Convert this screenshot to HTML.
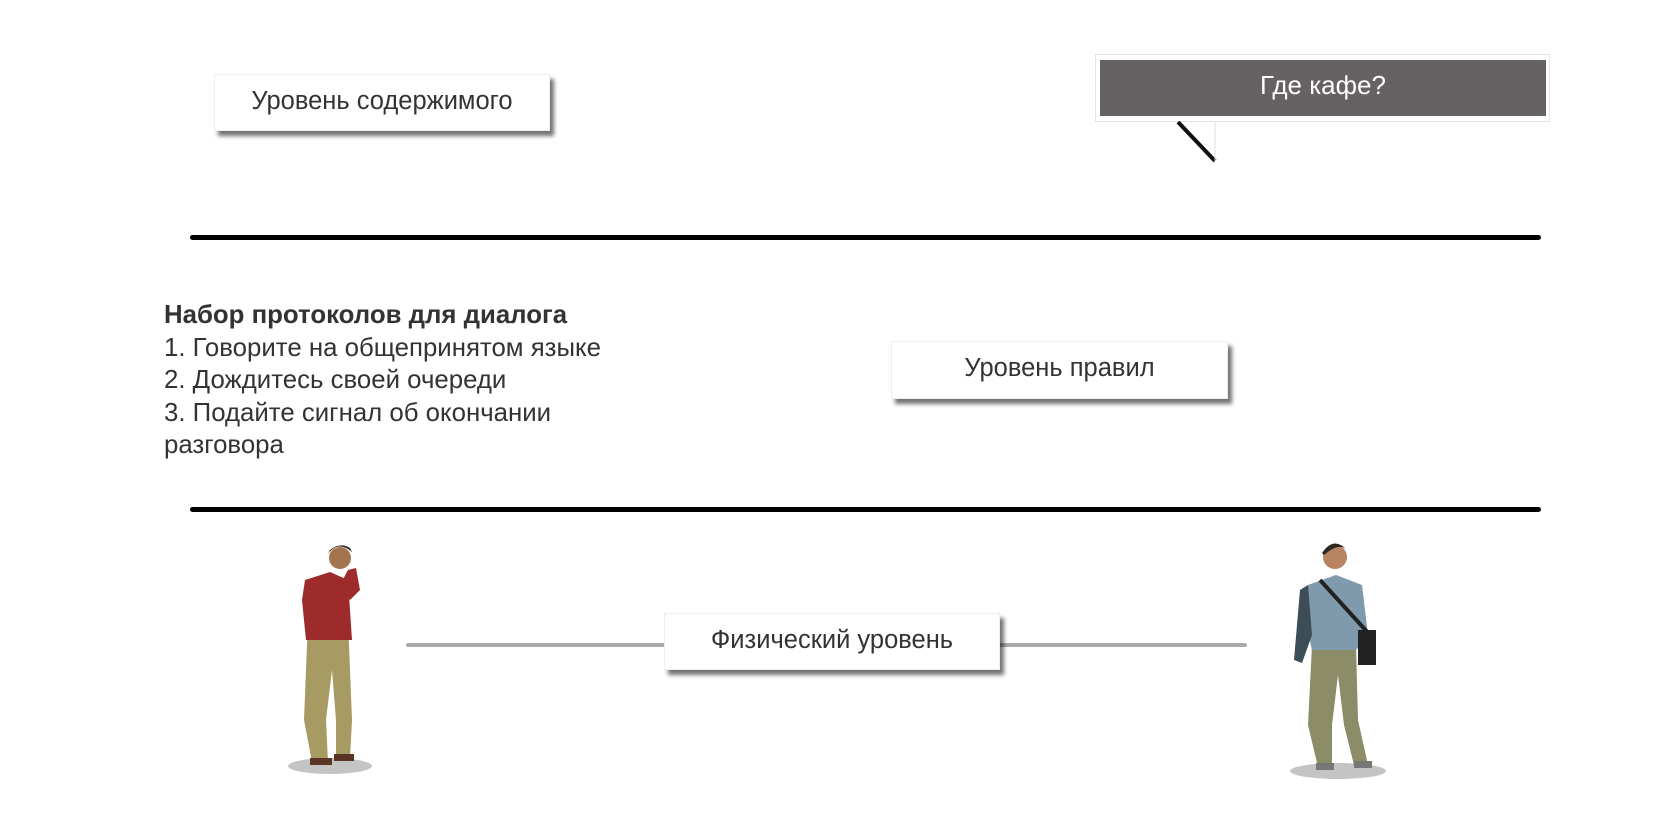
<!DOCTYPE html>
<html><head><meta charset="utf-8"><style>
body{margin:0;width:1674px;height:820px;background:#fff;position:relative;overflow:hidden;font-family:"Liberation Sans",sans-serif;color:#333}
.box{position:absolute;background:#fff;box-shadow:4px 5px 4px rgba(0,0,0,.55);display:flex;align-items:center;justify-content:center;font-size:25.5px;color:#333;border:1px solid #eee;box-sizing:border-box;padding-bottom:3px}
.hl{position:absolute;height:5px;background:#000;border-radius:3px}
.txt{position:absolute;left:164px;top:299px;font-size:25.8px;line-height:32.5px;color:#333}
</style></head><body>
<div class="box" style="left:214px;top:74px;width:336px;height:57px">Уровень содержимого</div>
<div style="position:absolute;left:1095px;top:54px;width:455px;height:68px;border:1px solid #e4e4e4;box-sizing:border-box;background:#fff"></div>
<div style="position:absolute;left:1100px;top:60px;width:446px;height:56px;background:#666263;color:#fff;font-size:26px;display:flex;align-items:center;justify-content:center;padding-bottom:5px;box-sizing:border-box">Где кафе?</div>
<svg style="position:absolute;left:1170px;top:121px" width="60" height="45"><polygon points="8,1 45,1 45,40" fill="#fff"/><line x1="8" y1="1" x2="45" y2="40" stroke="#111" stroke-width="4"/><line x1="45" y1="1" x2="45" y2="40" stroke="#ddd" stroke-width="1"/></svg>
<div class="hl" style="left:190px;top:235px;width:1351px"></div>
<div class="txt"><b>Набор протоколов для диалога</b><br>1. Говорите на общепринятом языке<br>2. Дождитесь своей очереди<br>3. Подайте сигнал об окончании<br>разговора</div>
<div class="box" style="left:891px;top:341px;width:337px;height:58px">Уровень правил</div>
<div class="hl" style="left:190px;top:507px;width:1351px"></div>
<div style="position:absolute;left:406px;top:643px;width:841px;height:4px;background:#aaa;border-radius:2px"></div>
<div class="box" style="left:664px;top:613px;width:336px;height:57px">Физический уровень</div>
<svg style="position:absolute;left:270px;top:540px" width="130" height="240">
<ellipse cx="60" cy="226" rx="42" ry="8" fill="#555" opacity=".35"/>
<path d="M38 80 L34 180 L42 222 L58 222 L56 180 L62 130 L66 180 L66 218 L80 218 L82 180 L78 80Z" fill="#a89a63"/>
<path d="M35 40 L60 32 L78 40 L82 100 L36 100 L32 60Z" fill="#9e2b2b"/>
<path d="M70 45 L78 30 L86 28 L90 50 L80 60Z" fill="#9e2b2b"/>
<circle cx="70" cy="18" r="11" fill="#a4744f"/><path d="M58 14 Q68 0 82 12 L80 8 Q70 2 60 10Z" fill="#2e2520"/>
<rect x="40" y="218" width="22" height="7" fill="#5a3424"/><rect x="64" y="214" width="20" height="7" fill="#5a3424"/>
</svg>
<svg style="position:absolute;left:1270px;top:535px" width="140" height="250">
<ellipse cx="68" cy="236" rx="48" ry="8" fill="#555" opacity=".35"/>
<path d="M42 110 L38 190 L48 232 L62 232 L62 190 L68 140 L74 190 L84 230 L98 230 L88 185 L86 110Z" fill="#8c8c68"/>
<path d="M38 50 L66 40 L92 50 L98 100 L86 115 L42 115 L34 80Z" fill="#7f9aac"/>
<path d="M30 55 L38 50 L42 100 L32 128 L24 125Z" fill="#3d4d55"/>
<path d="M50 45 L100 100" stroke="#222" stroke-width="4"/><rect x="88" y="95" width="18" height="35" fill="#222"/>
<circle cx="65" cy="22" r="12" fill="#b88461"/><path d="M52 18 Q64 0 78 16 Q70 6 54 20Z" fill="#2e2520"/>
<rect x="46" y="228" width="18" height="7" fill="#777"/><rect x="84" y="226" width="18" height="7" fill="#777"/>
</svg>
</body></html>
